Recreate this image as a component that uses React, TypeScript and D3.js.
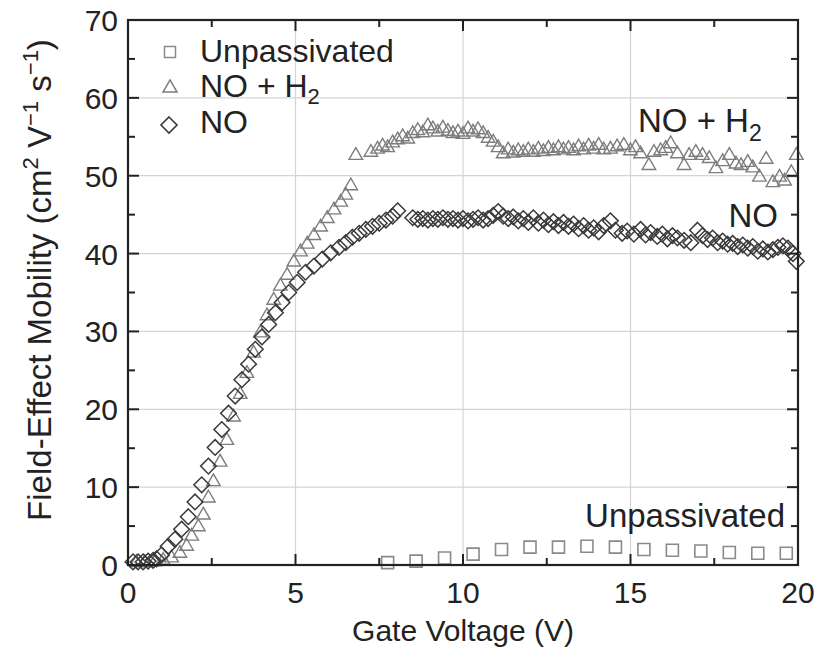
import React from 'react';
import * as d3 from 'd3';

const xTicks = [0, 5, 10, 15, 20];
const yTicks = [0, 10, 20, 30, 40, 50, 60, 70];
const xMinor = [2.5, 7.5, 12.5, 17.5];
const yMinor = [5, 15, 25, 35, 45, 55, 65];

const unpassivated: [number, number][] = [
  [7.75, 0.3], [8.6, 0.5], [9.45, 0.9], [10.3, 1.4], [11.15, 2.0], [12.0, 2.3], [12.85, 2.3],
  [13.7, 2.4], [14.55, 2.3], [15.4, 2.0], [16.25, 1.9], [17.1, 1.8], [17.95, 1.6], [18.8, 1.5], [19.65, 1.5],
];

const noH2: [number, number][] = [
  [0.25, 0.3], [0.5, 0.3], [0.8, 0.4], [1.05, 0.6], [1.3, 0.9], [1.55, 1.5], [1.75, 2.4], [1.9, 3.7],
  [2.1, 4.9], [2.25, 6.4], [2.4, 8.6], [2.55, 10.7], [2.75, 13.2], [2.95, 16.0], [3.15, 19.0], [3.35, 21.9],
  [3.55, 24.6], [3.75, 27.2], [3.95, 29.8], [4.15, 32.0], [4.35, 34.0], [4.55, 35.8], [4.75, 37.2],
  [4.95, 38.9], [5.15, 40.2], [5.35, 41.2], [5.55, 42.3], [5.75, 43.4], [5.95, 44.5], [6.15, 45.6],
  [6.35, 46.6], [6.5, 47.5], [6.65, 48.7], [6.8, 52.6],
  [7.25, 53.0], [7.45, 53.4], [7.6, 53.8], [7.75, 53.6], [7.9, 54.2], [8.05, 54.6], [8.2, 55.0], [8.35, 54.7],
  [8.5, 55.4], [8.65, 55.8], [8.8, 55.5], [8.95, 56.4], [9.1, 56.0], [9.25, 55.6], [9.4, 56.1], [9.55, 55.7],
  [9.7, 55.4], [9.85, 55.6], [10.0, 55.3], [10.15, 56.0], [10.3, 55.6], [10.45, 55.9], [10.6, 55.4],
  [10.75, 54.8], [10.9, 54.3], [11.05, 53.6], [11.2, 52.8], [11.35, 53.3], [11.5, 52.9], [11.65, 53.2],
  [11.8, 53.0], [11.95, 53.3], [12.1, 53.0], [12.25, 53.4], [12.4, 53.1], [12.55, 53.5], [12.7, 53.2],
  [12.85, 53.6], [13.0, 53.3], [13.15, 53.5], [13.3, 53.2], [13.45, 53.7], [13.6, 53.3], [13.75, 53.8],
  [13.9, 53.4], [14.05, 53.9], [14.2, 53.3], [14.4, 53.4], [14.6, 53.7], [14.8, 53.9], [15.0, 53.2],
  [15.15, 53.6], [15.3, 52.8], [15.55, 51.3], [15.7, 53.0], [15.9, 53.2], [16.05, 53.5], [16.2, 54.1],
  [16.4, 52.8], [16.6, 51.3], [16.75, 52.6], [16.95, 53.0], [17.15, 52.6], [17.35, 52.2], [17.55, 50.9],
  [17.75, 51.8], [17.95, 52.6], [18.15, 51.5], [18.3, 51.3], [18.5, 51.7], [18.65, 51.0], [18.85, 49.8],
  [19.05, 52.1], [19.25, 49.1], [19.45, 49.8], [19.6, 49.3], [19.8, 50.4], [19.95, 52.6],
];

const no: [number, number][] = [
  [0.15, 0.4], [0.3, 0.4], [0.45, 0.4], [0.6, 0.5], [0.75, 0.6], [0.85, 0.8], [1.0, 1.3], [1.2, 2.4],
  [1.4, 3.3], [1.6, 4.6], [1.8, 6.2], [2.0, 8.1], [2.2, 10.3], [2.4, 12.7], [2.6, 15.1], [2.8, 17.4],
  [3.0, 19.5], [3.2, 21.7], [3.4, 23.8], [3.6, 25.8], [3.8, 27.7], [4.0, 29.3], [4.2, 30.9], [4.4, 32.4],
  [4.6, 33.7], [4.8, 35.0], [5.05, 36.3], [5.3, 37.6], [5.55, 38.4], [5.8, 39.3], [6.05, 40.1], [6.3, 40.8],
  [6.5, 41.4], [6.7, 42.1], [6.9, 42.6], [7.1, 43.1], [7.3, 43.5], [7.5, 43.9], [7.7, 44.3], [7.9, 44.8],
  [8.05, 45.5],
  [8.5, 44.6], [8.65, 44.4], [8.8, 44.5], [8.95, 44.3], [9.1, 44.5], [9.25, 44.4], [9.4, 44.6], [9.55, 44.4],
  [9.7, 44.5], [9.85, 44.3], [10.0, 44.5], [10.15, 44.2], [10.3, 44.4], [10.45, 44.6], [10.6, 44.3],
  [10.75, 44.5], [10.9, 44.9], [11.05, 45.4], [11.2, 44.8], [11.35, 44.5], [11.5, 44.7], [11.65, 44.2],
  [11.8, 44.5], [11.95, 44.0], [12.1, 44.6], [12.25, 43.9], [12.4, 44.3], [12.55, 43.7], [12.7, 44.1],
  [12.85, 43.6], [13.0, 44.0], [13.15, 43.5], [13.3, 43.8], [13.45, 43.2], [13.6, 43.6], [13.75, 43.0],
  [13.9, 43.3], [14.05, 42.8], [14.2, 43.6], [14.4, 44.2], [14.55, 43.0], [14.75, 42.6], [14.9, 42.9],
  [15.1, 42.5], [15.3, 43.1], [15.45, 42.4], [15.6, 42.7], [15.8, 42.2], [15.95, 42.5], [16.1, 41.9],
  [16.25, 42.3], [16.4, 42.0], [16.6, 41.7], [16.8, 41.4], [17.0, 43.0], [17.15, 42.3], [17.3, 41.8],
  [17.45, 42.0], [17.6, 41.4], [17.75, 41.6], [17.9, 41.2], [18.05, 41.3], [18.2, 40.9], [18.35, 41.1],
  [18.5, 40.7], [18.65, 40.9], [18.8, 40.3], [18.95, 40.6], [19.1, 40.2], [19.25, 40.5], [19.4, 40.8],
  [19.55, 41.0], [19.7, 40.7], [19.85, 40.0], [19.95, 39.0],
];

const FONT = '"Liberation Sans", Arial, Helvetica, sans-serif';

const diamondPath = (cx: number, cy: number, r: number) =>
  `M${cx},${cy - r}L${cx + r},${cy}L${cx},${cy + r}L${cx - r},${cy}Z`;
const trianglePath = (cx: number, cy: number, s: number) => {
  const h = (s * Math.sqrt(3)) / 2;
  return `M${cx},${cy - (2 * h) / 3}L${cx + s / 2},${cy + h / 3}L${cx - s / 2},${cy + h / 3}Z`;
};
const squarePath = (cx: number, cy: number, s: number) =>
  `M${cx - s / 2},${cy - s / 2}h${s}v${s}h${-s}Z`;

export default function App() {
  const W = 816, H = 663;
  const L = 128, R = 798, T = 20, B = 565;
  const x = d3.scaleLinear().domain([0, 20]).range([L, R]);
  const y = d3.scaleLinear().domain([0, 70]).range([B, T]);
  const major = 11, minor = 7;

  return (
    <svg width={W} height={H} style={{ position: 'absolute', left: 0, top: 0, background: '#fff' }} fontFamily={FONT}>
      <rect x={0} y={0} width={W} height={H} fill="#fff" />
      {/* grid */}
      {xTicks.slice(1, -1).map((t) => (
        <line key={'gx' + t} x1={x(t)} x2={x(t)} y1={T} y2={B} stroke="#d4d4d4" strokeWidth={1.2} />
      ))}
      {yTicks.slice(1, -1).map((t) => (
        <line key={'gy' + t} x1={L} x2={R} y1={y(t)} y2={y(t)} stroke="#d4d4d4" strokeWidth={1.2} />
      ))}

      {/* data */}
      <g fill="none" stroke="#8a8a8a" strokeWidth={1.6}>
        {unpassivated.map((d, i) => (
          <path key={'u' + i} d={squarePath(x(d[0]), y(d[1]), 12)} />
        ))}
      </g>
      <g fill="none" stroke="#7d7d7d" strokeWidth={1.4}>
        {noH2.map((d, i) => (
          <path key={'t' + i} d={trianglePath(x(d[0]), y(d[1]), 13.5)} />
        ))}
      </g>
      <g fill="none" stroke="#3a3a3a" strokeWidth={1.5}>
        {no.map((d, i) => (
          <path key={'d' + i} d={diamondPath(x(d[0]), y(d[1]), 7.8)} />
        ))}
      </g>

      {/* frame */}
      <rect x={L} y={T} width={R - L} height={B - T} fill="none" stroke="#222" strokeWidth={2.2} />

      {/* ticks */}
      <g stroke="#222" strokeWidth={2}>
        {xTicks.map((t) => (
          <g key={'xt' + t}>
            <line x1={x(t)} x2={x(t)} y1={B} y2={B - major} />
            <line x1={x(t)} x2={x(t)} y1={T} y2={T + major} />
          </g>
        ))}
        {xMinor.map((t) => (
          <g key={'xm' + t}>
            <line x1={x(t)} x2={x(t)} y1={B} y2={B - minor} />
            <line x1={x(t)} x2={x(t)} y1={T} y2={T + minor} />
          </g>
        ))}
        {yTicks.map((t) => (
          <g key={'yt' + t}>
            <line x1={L} x2={L + major} y1={y(t)} y2={y(t)} />
            <line x1={R} x2={R - major} y1={y(t)} y2={y(t)} />
          </g>
        ))}
        {yMinor.map((t) => (
          <g key={'ym' + t}>
            <line x1={L} x2={L + minor} y1={y(t)} y2={y(t)} />
            <line x1={R} x2={R - minor} y1={y(t)} y2={y(t)} />
          </g>
        ))}
      </g>

      {/* tick labels */}
      <g fontSize={30} fill="#222">
        {xTicks.map((t) => (
          <text key={'xl' + t} x={x(t)} y={603} textAnchor="middle">{t}</text>
        ))}
        {yTicks.map((t) => (
          <text key={'yl' + t} x={118} y={y(t) + 11} textAnchor="end">{t}</text>
        ))}
      </g>

      {/* axis titles */}
      <text x={x(10)} y={641} textAnchor="middle" fontSize={30} fill="#222">Gate Voltage (V)</text>
      <text transform={`translate(51,280) rotate(-90)`} textAnchor="middle" fontSize={33} fill="#222">
        Field-Effect Mobility (cm<tspan dy={-13} fontSize={22}>2</tspan>
        <tspan dy={13}> V</tspan><tspan dy={-13} fontSize={22}>−1</tspan>
        <tspan dy={13}> s</tspan><tspan dy={-13} fontSize={22}>−1</tspan>
        <tspan dy={13}>)</tspan>
      </text>

      {/* legend */}
      <g>
        <path d={squarePath(170, 52, 11)} fill="none" stroke="#8a8a8a" strokeWidth={1.5} />
        <text x={200} y={62} fontSize={32} fill="#222">Unpassivated</text>
        <path d={trianglePath(170, 88, 14)} fill="none" stroke="#7d7d7d" strokeWidth={1.5} />
        <text x={200} y={97} fontSize={32} fill="#222">NO + H<tspan dy={7} fontSize={22}>2</tspan></text>
        <path d={diamondPath(169, 125, 8)} fill="none" stroke="#3a3a3a" strokeWidth={1.6} />
        <text x={200} y={133} fontSize={32} fill="#222">NO</text>
      </g>

      {/* annotations */}
      <text x={638} y={132} fontSize={33} fill="#222">NO + H<tspan dy={9} fontSize={23}>2</tspan></text>
      <text x={778} y={227} fontSize={33} fill="#222" textAnchor="end">NO</text>
      <text x={785} y={527} fontSize={33} fill="#222" textAnchor="end">Unpassivated</text>
    </svg>
  );
}
